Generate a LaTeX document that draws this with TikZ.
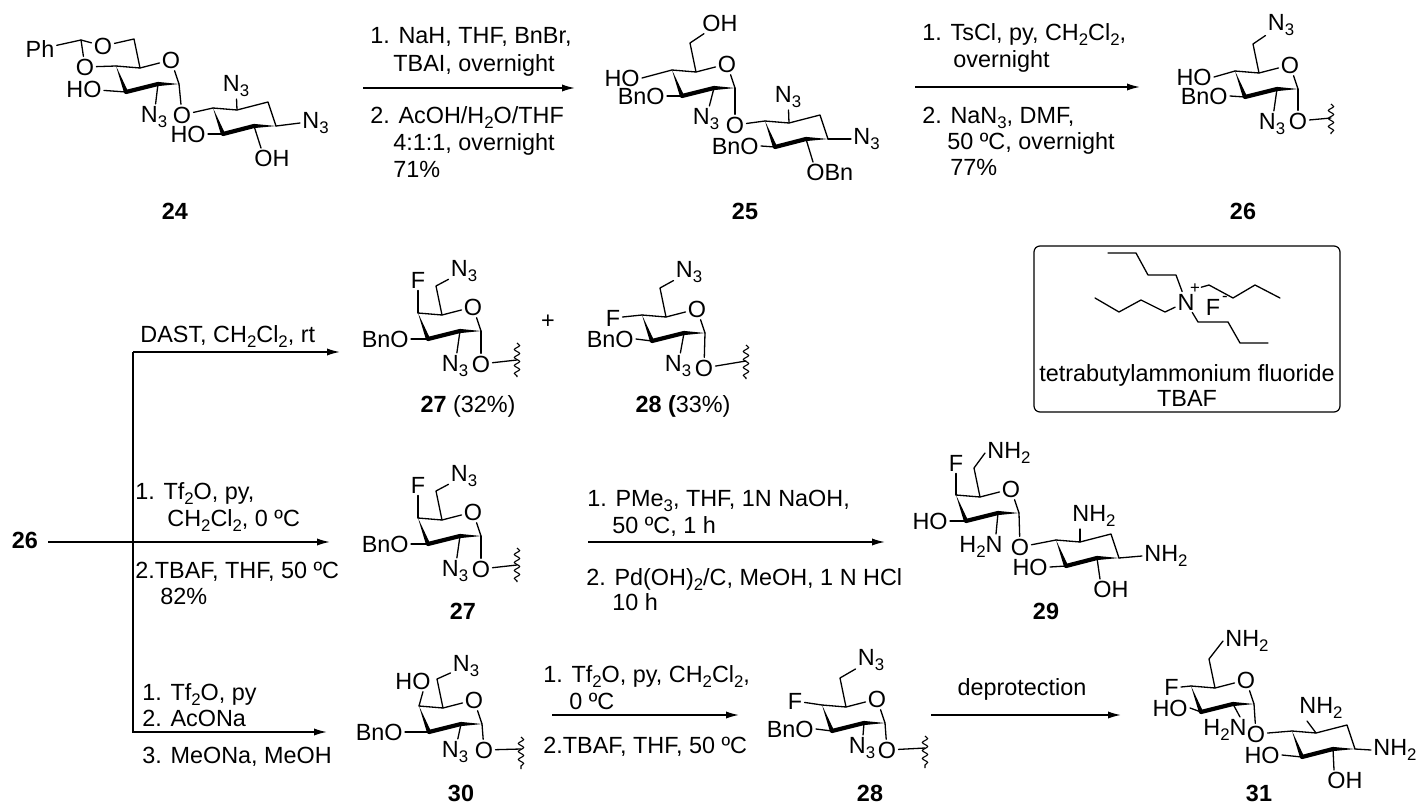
\documentclass[tikz,border=0pt]{standalone}
\usepackage{fontspec}
\setmainfont{Liberation Sans}
\usetikzlibrary{calc,arrows.meta,decorations.pathmorphing}
\newcommand\chsub[1]{\raisebox{-0.22em}{\fontsize{8.4}{8.4}\selectfont #1}}
\newcommand\fsz{\fontsize{11.7}{14}\selectfont}
\tikzset{
  bond/.style={line width=0.65pt, line cap=round, line join=round},
  bbond/.style={line width=2.1pt, line cap=round},
  atm/.style={inner sep=1pt, font=\fsz},
  tx/.style={anchor=base west, inner sep=0pt, font=\fsz},
  num/.style={anchor=base, inner sep=0pt, font=\fsz\bfseries},
  plain/.style={anchor=base, inner sep=0pt, font=\fsz},
  arr/.style={line width=0.75pt, -{Latex[length=6.5pt,width=3.6pt]}},
  ln/.style={line width=0.75pt},
  squig/.style={line width=0.55pt, decorate, decoration={snake, amplitude=1.3pt, segment length=4pt}},
}
\newcommand\wdg[2]{\fill ($(#2)!1.05pt!90:(#1)$) -- (#1) -- ($(#2)!1.05pt!-90:(#1)$) -- cycle;}
\newcommand\pyr[3]{%
  \coordinate (#1c4) at (#2,#3);
  \coordinate (#1c5) at ($(#1c4)+(24,2)$);
  \node[atm] (#1o5) at ($(#1c4)+(55,-6)$) {O};
  \coordinate (#1c1) at ($(#1c4)+(63,18)$);
  \coordinate (#1c2) at ($(#1c4)+(42,18)$);
  \coordinate (#1c3) at ($(#1c4)+(10,26)$);
  \coordinate (#1c6) at ($(#1c4)+(18,-27)$);
  \draw[bond] (#1c4) -- (#1c5) -- (#1o5) -- (#1c1);
  \draw[bbond] (#1c3) -- (#1c2);
  \wdg{#1c4}{#1c3}
  \wdg{#1c1}{#1c2}
}
\newcommand\chex[3]{%
  \coordinate (#1a) at (#2,#3);
  \coordinate (#1b) at ($(#1a)+(24,2)$);
  \coordinate (#1c) at ($(#1a)+(55,-6)$);
  \coordinate (#1d) at ($(#1a)+(63,18)$);
  \coordinate (#1e) at ($(#1a)+(41,18)$);
  \coordinate (#1f) at ($(#1a)+(10,26)$);
  \draw[bond] (#1a) -- (#1b) -- (#1c) -- (#1d);
  \draw[bbond] (#1f) -- (#1e);
  \wdg{#1a}{#1f}
  \wdg{#1d}{#1e}
}
\begin{document}
\begin{tikzpicture}[x=0.5pt,y=-0.5pt]
\useasboundingbox (0,0) rectangle (1420,803);

% ---------- 24 ----------
\pyr{a}{116}{66}
\node[atm] (aot) at (103,46) {O};
\coordinate (aac) at (81,40);
\node[atm] (aph) at (40,49) {Ph};
\node[atm] (aob) at (85,67) {O};
\draw[bond] (ac5) -- (ac6) -- (aot) -- (aac) -- (aph);
\draw[bond] (aac) -- (aob) -- (ac4);
\node[atm] (aho) at (84,89) {HO};
\draw[bond] (ac3) -- (aho);
\node[atm] (an3) at (154,117) {N\chsub{3}};
\draw[bond] (ac2) -- (an3);
\node[atm] (aog) at (182,115) {O};
\draw[bond] (ac1) -- (aog);
\chex{b}{213}{108}
\draw[bond] (aog) -- (ba);
\node[atm] (bn1) at (236,86) {N\chsub{3}};
\draw[bond] (bb) -- (bn1);
\node[atm, anchor=west] (bn2) at (300,123) {N\chsub{3}};
\draw[bond] (bd) -- (bn2.west);
\node[atm, anchor=north west] (boh) at (252,148) {OH};
\draw[bond] (be) -- ($(boh.north west)+(9,0)$);
\node[atm, anchor=east] (bho) at (208,134) {HO};
\draw[bond] (bf) -- (bho.east);
\node[num] (l24) at (175,219) {24};

% ---------- arrow 1 ----------
\coordinate (r1s) at (363,88); \coordinate (r1e) at (575,88);
\draw[arr] (r1s) -- (r1e);
\node[tx] (t1a) at (370,43) {1. NaH, THF, BnBr,};
\node[tx] (t1b) at (393,71) {TBAI, overnight};
\node[tx] (t1c) at (370,123) {2. AcOH/H\chsub{2}O/THF};
\node[tx] (t1d) at (393,150) {4:1:1, overnight};
\node[tx] (t1e) at (393,177) {71\%};

% ---------- 25 ----------
\pyr{c}{672}{70}
\node[atm] (coh) at (720,23) {OH};
\draw[bond] (cc5) -- (cc6) -- (coh);
\node[atm, anchor=east] (cho) at (642,78) {HO};
\draw[bond] (cc4) -- (cho.east);
\node[atm, anchor=east] (cbo) at (667,96) {BnO};
\draw[bond] (cc3) -- (cbo.east);
\node[atm] (cn3) at (706,119) {N\chsub{3}};
\draw[bond] (cc2) -- (cn3);
\node[atm] (cog) at (735,125) {O};
\draw[bond] (cc1) -- (cog);
\chex{d}{765}{121}
\draw[bond] (cog) -- (da);
\node[atm] (dn1) at (788,97) {N\chsub{3}};
\draw[bond] (db) -- (dn1);
\node[atm, anchor=west] (dn2) at (851,139) {N\chsub{3}};
\draw[bond] (dd) -- (dn2.west);
\node[atm, anchor=north west] (dob) at (804,162) {OBn};
\draw[bond] (de) -- ($(dob.north west)+(9,0)$);
\node[atm, anchor=east] (dbo) at (761,146) {BnO};
\draw[bond] (df) -- (dbo.east);
\node[num] (l25) at (745,219) {25};

% ---------- arrow 2 ----------
\coordinate (r2s) at (915,87); \coordinate (r2e) at (1140,87);
\draw[arr] (r2s) -- (r2e);
\node[tx] (t2a) at (922,40) {1. TsCl, py, CH\chsub{2}Cl\chsub{2},};
\node[tx] (t2b) at (953,67) {overnight};
\node[tx] (t2c) at (922,123) {2. NaN\chsub{3}, DMF,};
\node[tx] (t2d) at (947,149) {50 ºC, overnight};
\node[tx] (t2e) at (950,175) {77\%};

% ---------- 26 ----------
\pyr{e}{1235}{71}
\node[atm] (en6) at (1281,25) {N\chsub{3}};
\draw[bond] (ec5) -- (ec6) -- (en6);
\node[atm, anchor=east] (eho) at (1214,77) {HO};
\draw[bond] (ec4) -- (eho.east);
\node[atm, anchor=east] (ebo) at (1230,96) {BnO};
\draw[bond] (ec3) -- (ebo.east);
\node[atm] (en3) at (1272,124) {N\chsub{3}};
\draw[bond] (ec2) -- (en3);
\node[atm] (eog) at (1298,121) {O};
\draw[bond] (ec1) -- (eog);
\coordinate (ew) at (1331,118);
\draw[bond] (eog) -- (ew);
\draw[squig] ($(ew)+(0,-14)$) -- ($(ew)+(0,16)$);
\node[num] (l26) at (1243,219) {26};

% ---------- branch from 26 ----------
\node[num] (l26b) at (25,548) {26};
\coordinate (mm0) at (48,542); \coordinate (mm1) at (330,542);
\coordinate (brt) at (133,352); \coordinate (brb) at (133,732);
\coordinate (brte) at (340,352); \coordinate (brbe) at (327,732);
\draw[arr] (brt) -- (brb) -- (brbe);
\draw[arr] (brt) -- (brte);
\draw[arr] (mm0) -- (mm1);
\node[tx] (tb1) at (140,342) {DAST, CH\chsub{2}Cl\chsub{2}, rt};
\node[tx] (tb2) at (135,499) {1. Tf\chsub{2}O, py,};
\node[tx] (tb3) at (167,526) {CH\chsub{2}Cl\chsub{2}, 0 ºC};
\node[tx] (tb4) at (135,578) {2.TBAF, THF, 50 ºC};
\node[tx] (tb5) at (160,604) {82\%};
\node[tx] (tb6) at (142,700) {1. Tf\chsub{2}O, py};
\node[tx] (tb7) at (142,726) {2. AcONa};
\node[tx] (tb8) at (142,763) {3. MeONa, MeOH};

% ---------- 27 (top) ----------
\pyr{f}{418}{313}
\node[atm] (ff) at (418,280) {F};
\draw[bond] (fc4) -- (ff);
\node[atm] (fn6) at (464,271) {N\chsub{3}};
\draw[bond] (fc5) -- (fc6) -- (fn6);
\node[atm, anchor=east] (fbo) at (411,339) {BnO};
\draw[bond] (fc3) -- (fbo.east);
\node[atm] (fn3) at (455,366) {N\chsub{3}};
\draw[bond] (fc2) -- (fn3);
\node[atm] (fog) at (481,364) {O};
\draw[bond] (fc1) -- (fog);
\coordinate (fw) at (517,360);
\draw[bond] (fog) -- (fw);
\draw[squig] ($(fw)+(0,-17)$) -- ($(fw)+(0,17)$);
\node[plain] (l27) at (468,412) {\textbf{27} (32\%)};
\node[plain] (plus) at (548,328) {+};

% ---------- 28 (top) ----------
\pyr{g}{642}{315}
\node[atm] (gn6) at (689,272) {N\chsub{3}};
\draw[bond] (gc5) -- (gc6) -- (gn6);
\node[atm] (gf) at (613,318) {F};
\draw[bond] (gc4) -- (gf);
\node[atm, anchor=east] (gbo) at (636,339) {BnO};
\draw[bond] (gc3) -- (gbo.east);
\node[atm] (gn3) at (678,366) {N\chsub{3}};
\draw[bond] (gc2) -- (gn3);
\node[atm] (gog) at (704,368) {O};
\draw[bond] (gc1) -- (gog);
\coordinate (gw) at (746,361);
\draw[bond] (gog) -- (gw);
\draw[squig] ($(gw)+(0,-16)$) -- ($(gw)+(0,18)$);
\node[plain] (l28) at (683,412) {\textbf{28 (}33\%)};

% ---------- TBAF box ----------
\draw[line width=0.6pt, rounded corners=3pt] (1034,246) rectangle (1340,412);
\node[atm] (tn) at (1186,302) {N};
\node[inner sep=0.5pt, font=\fontsize{8.4}{8.4}\selectfont] (tnp) at (1195,289) {+};
\node[atm] (tf) at (1213,307) {F};
\node[inner sep=0.5pt, font=\fontsize{8.4}{8.4}\selectfont] (tfm) at (1225,299) {-};
\draw[bond] (tn) -- (1176,275) -- (1148,275) -- (1136,253) -- (1108,253);
\draw[bond] (tn) -- (1165,312) -- (1141,300) -- (1119,312) -- (1095,298);
\draw[bond] (tnp) -- (1209,285) -- (1233,298) -- (1255,285) -- (1280,298);
\draw[bond] (tn) -- (1198,322) -- (1228,322) -- (1240,343) -- (1268,343);
\node[plain] (ttx) at (1187,381) {tetrabutylammonium fluoride};
\node[plain] (ttb) at (1187,406) {TBAF};

% ---------- 27 (middle) ----------
\pyr{h}{418}{518}
\node[atm] (hf) at (418,485) {F};
\draw[bond] (hc4) -- (hf);
\node[atm] (hn6) at (464,476) {N\chsub{3}};
\draw[bond] (hc5) -- (hc6) -- (hn6);
\node[atm, anchor=east] (hbo) at (411,544) {BnO};
\draw[bond] (hc3) -- (hbo.east);
\node[atm] (hn3) at (455,571) {N\chsub{3}};
\draw[bond] (hc2) -- (hn3);
\node[atm] (hog) at (481,569) {O};
\draw[bond] (hc1) -- (hog);
\coordinate (hw) at (517,565);
\draw[bond] (hog) -- (hw);
\draw[squig] ($(hw)+(0,-17)$) -- ($(hw)+(0,17)$);
\node[num] (l27b) at (463,619) {27};

% ---------- arrow 27 -> 29 ----------
\coordinate (r3s) at (588,542); \coordinate (r3e) at (885,542);
\draw[arr] (r3s) -- (r3e);
\node[tx] (t3a) at (587,506) {1. PMe\chsub{3}, THF, 1N NaOH,};
\node[tx] (t3b) at (612,533) {50 ºC, 1 h};
\node[tx] (t3c) at (586,585) {2. Pd(OH)\chsub{2}/C, MeOH, 1 N HCl};
\node[tx] (t3d) at (612,610) {10 h};

% ---------- 29 ----------
\pyr{i}{956}{495}
\node[atm] (if) at (956,463) {F};
\draw[bond] (ic4) -- (if);
\node[atm, anchor=west] (in6) at (985,453) {NH\chsub{2}};
\draw[bond] (ic5) -- (ic6) -- (in6.west);
\node[atm, anchor=east] (iho) at (950,521) {HO};
\draw[bond] (ic3) -- (iho.east);
\node[atm, anchor=north east] (ih2n) at (1005,534) {H\chsub{2}N};
\draw[bond] (ic2) -- ($(ih2n.north east)+(-9,0)$);
\node[atm] (iog) at (1020,547) {O};
\draw[bond] (ic1) -- (iog);
\chex{j}{1056}{540}
\draw[bond] (iog) -- (ja);
\node[atm, anchor=south west] (jn1) at (1070,529) {NH\chsub{2}};
\draw[bond] (jb) -- ($(jn1.south west)+(10,0)$);
\node[atm, anchor=west] (jn2) at (1142,556) {NH\chsub{2}};
\draw[bond] (jd) -- (jn2.west);
\node[atm, anchor=east] (jho) at (1050,567) {HO};
\draw[bond] (jf) -- (jho.east);
\node[atm, anchor=north west] (joh) at (1091,579) {OH};
\draw[bond] (je) -- ($(joh.north west)+(9,0)$);
\node[num] (l29) at (1046,619) {29};

% ---------- 30 ----------
\pyr{k}{419}{706}
\node[atm] (kho) at (413,681) {HO};
\draw[bond] (kc4) -- ($(kho.south east)+(-10,0)$);
\node[atm] (kn6) at (466,666) {N\chsub{3}};
\draw[bond] (kc5) -- (kc6) -- (kn6);
\node[atm, anchor=east] (kbo) at (405,732) {BnO};
\draw[bond] (kc3) -- (kbo.east);
\node[atm] (kn3) at (455,752) {N\chsub{3}};
\draw[bond] (kc2) -- (kn3);
\node[atm] (kog) at (484,750) {O};
\draw[bond] (kc1) -- (kog);
\coordinate (kw) at (521,749);
\draw[bond] (kog) -- (kw);
\draw[squig] ($(kw)+(0,-12)$) -- ($(kw)+(0,20)$);
\node[num] (l30) at (461,801) {30};

% ---------- arrow 30 -> 28 ----------
\coordinate (r4s) at (552,715); \coordinate (r4e) at (739,715);
\draw[arr] (r4s) -- (r4e);
\node[tx] (t4a) at (543,682) {1. Tf\chsub{2}O, py, CH\chsub{2}Cl\chsub{2},};
\node[tx] (t4b) at (569,709) {0 ºC};
\node[tx] (t4c) at (543,753) {2.TBAF, THF, 50 ºC};

% ---------- 28 (bottom) ----------
\pyr{m}{822}{705}
\node[atm] (mn6) at (871,660) {N\chsub{3}};
\draw[bond] (mc5) -- (mc6) -- (mn6);
\node[atm] (mf) at (795,701) {F};
\draw[bond] (mc4) -- (mf);
\node[atm, anchor=east] (mbo) at (816,729) {BnO};
\draw[bond] (mc3) -- (mbo.east);
\node[atm] (mn3) at (862,748) {N\chsub{3}};
\draw[bond] (mc2) -- (mn3);
\node[atm] (mog) at (887,750) {O};
\draw[bond] (mc1) -- (mog);
\coordinate (mw) at (925,748);
\draw[bond] (mog) -- (mw);
\draw[squig] ($(mw)+(0,-12)$) -- ($(mw)+(0,20)$);
\node[num] (l28b) at (870,801) {28};

% ---------- arrow 28 -> 31 ----------
\coordinate (r5s) at (931,715); \coordinate (r5e) at (1121,715);
\draw[arr] (r5s) -- (r5e);
\node[plain] (t5a) at (1022,695) {deprotection};

% ---------- 31 ----------
\pyr{n}{1191}{686}
\node[atm, anchor=west] (nn6) at (1223,641) {NH\chsub{2}};
\draw[bond] (nc5) -- (nc6) -- (nn6.west);
\node[atm, anchor=east] (nf) at (1181,687) {F};
\draw[bond] (nc4) -- (nf.east);
\node[atm, anchor=east] (nho) at (1190,708) {HO};
\draw[bond] (nc3) -- (nho.east);
\node[atm, anchor=north east] (nh2n) at (1249,717) {H\chsub{2}N};
\draw[bond] (nc2) -- ($(nh2n.north east)+(-9,0)$);
\node[atm] (nog) at (1256,734) {O};
\draw[bond] (nc1) -- (nog);
\chex{p}{1292}{731}
\draw[bond] (nog) -- (pa);
\node[atm, anchor=south west] (pn1) at (1297,721) {NH\chsub{2}};
\draw[bond] (pb) -- ($(pn1.south west)+(10,0)$);
\node[atm, anchor=west] (pn2) at (1371,750) {NH\chsub{2}};
\draw[bond] (pd) -- (pn2.west);
\node[atm, anchor=east] (pho) at (1282,755) {HO};
\draw[bond] (pf) -- (pho.east);
\node[atm, anchor=north west] (poh) at (1325,770) {OH};
\draw[bond] (pe) -- ($(poh.north west)+(9,0)$);
\node[num] (l31) at (1259,801) {31};
\end{tikzpicture}
\end{document}
